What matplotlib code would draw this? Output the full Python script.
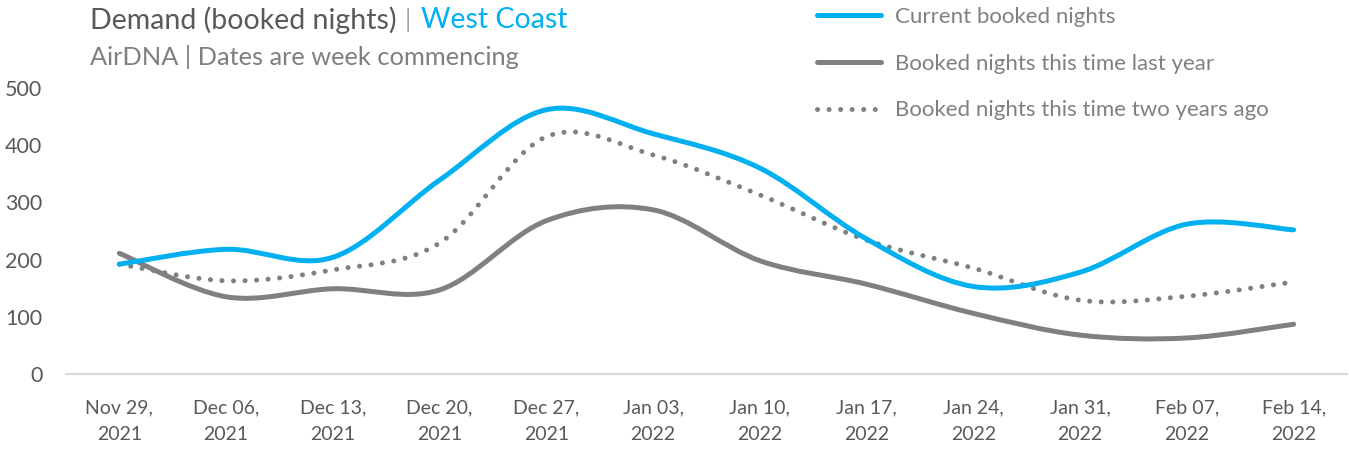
import matplotlib
matplotlib.use("Agg")
import matplotlib.pyplot as plt
from matplotlib.path import Path
from matplotlib.patches import PathPatch
from matplotlib.lines import Line2D

plt.rcParams['font.family'] = ['Lato', 'DejaVu Sans']

# week commencing labels
weeks = ['Nov 29,\n2021', 'Dec 06,\n2021', 'Dec 13,\n2021', 'Dec 20,\n2021',
         'Dec 27,\n2021', 'Jan 03,\n2022', 'Jan 10,\n2022', 'Jan 17,\n2022',
         'Jan 24,\n2022', 'Jan 31,\n2022', 'Feb 07,\n2022', 'Feb 14,\n2022']

current = [192, 218, 204, 339, 462, 420, 360, 236, 153, 178, 262, 252]
last_year = [211, 135, 149, 147, 268, 287, 198, 157, 106, 68, 63, 87]
two_years = [192, 163, 182, 229, 415, 383, 313, 234, 185, 129, 136, 161]

BLUE = '#00B0F0'
GREY = '#808080'


def smooth_path(xs, ys):
    # excel-style smoothed line: bezier segments through each point
    n = len(xs)
    verts = [(xs[0], ys[0])]
    codes = [Path.MOVETO]
    for i in range(n - 1):
        p0 = (xs[i - 1], ys[i - 1]) if i > 0 else (xs[i], ys[i])
        p1 = (xs[i], ys[i])
        p2 = (xs[i + 1], ys[i + 1])
        p3 = (xs[i + 2], ys[i + 2]) if i + 2 < n else p2
        c1 = (p1[0] + (p2[0] - p0[0]) / 6, p1[1] + (p2[1] - p0[1]) / 6)
        c2 = (p2[0] - (p3[0] - p1[0]) / 6, p2[1] - (p3[1] - p1[1]) / 6)
        verts += [c1, c2, p2]
        codes += [Path.CURVE4] * 3
    return Path(verts, codes)


fig = plt.figure(figsize=(13.49, 4.5), dpi=100)
ax = fig.add_axes([66 / 1349, 76 / 450, 1281 / 1349, 286 / 450])

x = list(range(len(weeks)))
lw = 3.6
dots = (0, (0.01, 2.3))

ax.add_patch(PathPatch(smooth_path(x, two_years), fill=False, edgecolor=GREY,
                       lw=lw, linestyle=dots, capstyle='round', zorder=2))
ax.add_patch(PathPatch(smooth_path(x, last_year), fill=False, edgecolor=GREY,
                       lw=lw, capstyle='round', zorder=3))
ax.add_patch(PathPatch(smooth_path(x, current), fill=False, edgecolor=BLUE,
                       lw=lw, capstyle='round', zorder=4))

ax.set_xlim(-0.5, len(weeks) - 0.5)
ax.set_ylim(0, 500)
ax.set_xticks(x)
ax.set_xticklabels(weeks, fontsize=14, color='#595959', linespacing=1.72)
ax.set_yticks([0, 100, 200, 300, 400, 500])
ax.tick_params(axis='y', labelsize=15.5, labelcolor='#595959', length=0, pad=17)
ax.tick_params(axis='x', length=0, pad=18)
for s in ['top', 'right', 'left']:
    ax.spines[s].set_visible(False)
ax.spines['bottom'].set_color('#D9D9D9')
ax.spines['bottom'].set_linewidth(1.5)

# titles
fig.text(90 / 1349, 1 - 20 / 450, 'Demand (booked nights)', fontsize=20.5,
         color='#595959', va='center', ha='left')
fig.canvas.draw()
r = fig.texts[0].get_window_extent()
fig.text(r.x1 / 1349 + 0.006, 1 - 20 / 450, '|', fontsize=18, color='#A6A6A6',
         va='center', ha='left')
fig.text(r.x1 / 1349 + 0.018, 1 - 20 / 450, 'West Coast', fontsize=20.5,
         color=BLUE, va='center', ha='left')
fig.text(90 / 1349, 1 - 57 / 450, 'AirDNA | Dates are week commencing',
         fontsize=18.3, color='#7F7F7F', va='center', ha='left')

handles = [Line2D([], [], color=BLUE, lw=lw, solid_capstyle='round'),
           Line2D([], [], color=GREY, lw=lw, solid_capstyle='round'),
           Line2D([], [], color=GREY, lw=lw, linestyle=dots, dash_capstyle='round')]
labels = ['Current booked nights', 'Booked nights this time last year',
          'Booked nights this time two years ago']
leg = fig.legend(handles, labels, loc='upper left',
                 bbox_to_anchor=(797 / 1349, 1 + 13 / 450), frameon=False,
                 fontsize=16, handlelength=2.9, handletextpad=0.62,
                 labelspacing=1.2, labelcolor='#808080')

fig.savefig('out.png', dpi=100)
